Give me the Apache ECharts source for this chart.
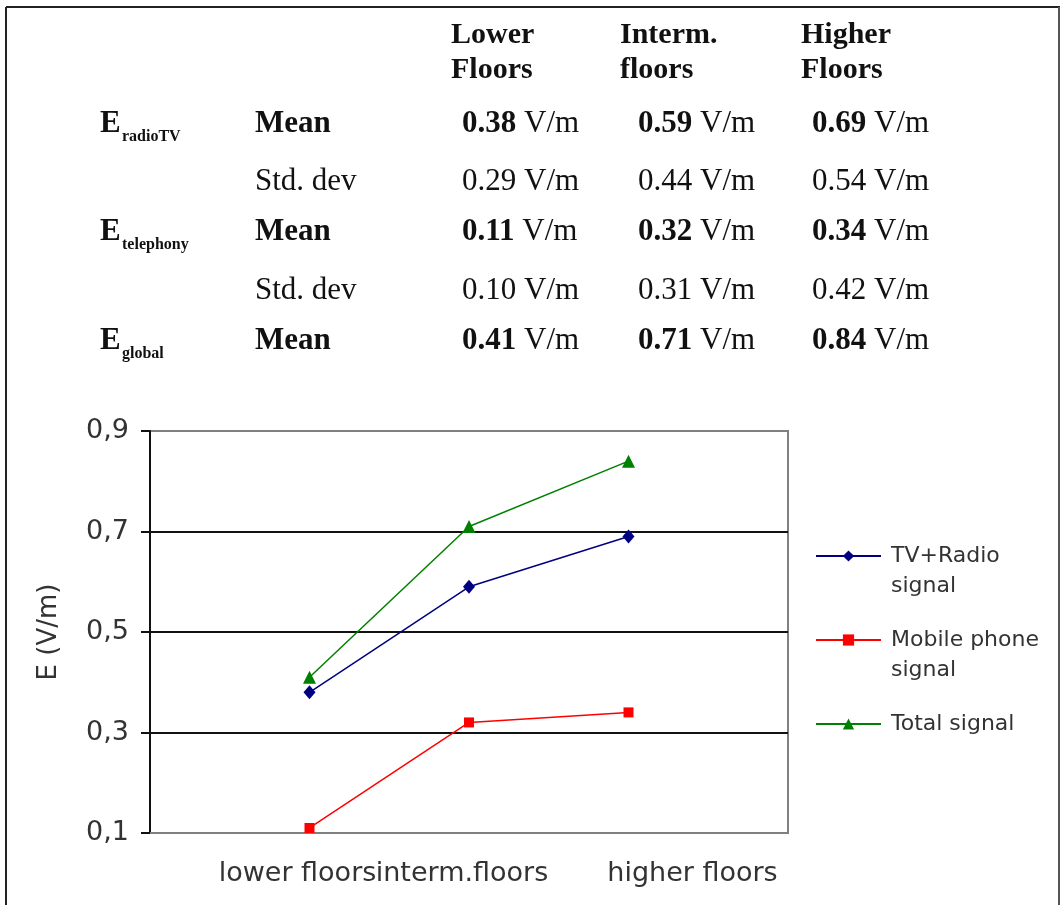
<!DOCTYPE html>
<html><head><meta charset="utf-8">
<script src="https://cdn.jsdelivr.net/npm/echarts@6/dist/echarts.min.js"></script>
<style>html,body{margin:0;padding:0;background:#fff}#c{width:1061px;height:905px}</style>
</head><body><div id="c"></div>
<script>
// ---- data ----
const floorCategories = ['lower floors', 'interm.floors', 'higher floors'];
const tableHeaders = [['Lower', 'Floors'], ['Interm.', 'floors'], ['Higher', 'Floors']];
const quantityNames = ['radioTV', 'telephony', 'global'];
const statNames = ['Mean', 'Std. dev'];
const radioTVMean = [0.38, 0.59, 0.69];
const radioTVStd = [0.29, 0.44, 0.54];
const telephonyMean = [0.11, 0.32, 0.34];
const telephonyStd = [0.10, 0.31, 0.42];
const globalMean = [0.41, 0.71, 0.84];
const seriesNames = ['TV+Radio signal', 'Mobile phone signal', 'Total signal'];
const yTickValues = [0.1, 0.3, 0.5, 0.7, 0.9];
const yAxisName = 'E (V/m)';
const unitText = 'V/m';

// ---- table (graphic text) ----
const serif = '"Liberation Serif", "Times New Roman", serif';
const sans = '"DejaVu Sans", sans-serif';
const tableRows = [
  { q: quantityNames[0], stat: statNames[0], vals: radioTVMean, bold: true },
  { q: null, stat: statNames[1], vals: radioTVStd, bold: false },
  { q: quantityNames[1], stat: statNames[0], vals: telephonyMean, bold: true },
  { q: null, stat: statNames[1], vals: telephonyStd, bold: false },
  { q: quantityNames[2], stat: statNames[0], vals: globalMean, bold: true }
];
const rowCenterY = [124, 182, 232, 291, 341];
const headerX = [451, 620, 801];
const headerY = [35, 70];
const valueX = [462, 638, 812];
const graphics = [];
function txt(x, y, text, size, weight, extra) {
  return {
    type: 'text', x: x, y: y, silent: true,
    style: Object.assign({ text: text, fontFamily: serif, fontSize: size, fontWeight: weight || 'normal', fill: '#111', align: 'left', verticalAlign: 'middle' }, extra || {})
  };
}
tableHeaders.forEach((lines, i) => {
  lines.forEach((line, j) => graphics.push(txt(headerX[i], headerY[j], line, 30, 'bold')));
});
tableRows.forEach((row, r) => {
  const cy = rowCenterY[r];
  if (row.q) {
    graphics.push(txt(100, cy, 'E', 31, 'bold'));
    graphics.push(txt(122, cy + 13, row.q, 16, 'bold'));
  }
  graphics.push(txt(255, cy, row.stat, 31, row.bold ? 'bold' : 'normal'));
  row.vals.forEach((v, c) => {
    const num = v.toFixed(2);
    const t = row.bold ? '{b|' + num + '} ' + unitText : num + ' ' + unitText;
    graphics.push(txt(valueX[c], cy, t, 31, 'normal', {
      rich: { b: { fontFamily: serif, fontSize: 31, fontWeight: 'bold', fill: '#111' } }
    }));
  });
});
// outer frame
graphics.push({ type: 'line', silent: true, shape: { x1: 6, y1: 7, x2: 1060, y2: 7 }, style: { stroke: '#222', lineWidth: 2 } });
graphics.push({ type: 'line', silent: true, shape: { x1: 6, y1: 7, x2: 6, y2: 905 }, style: { stroke: '#222', lineWidth: 2 } });
graphics.push({ type: 'line', silent: true, shape: { x1: 1059, y1: 7, x2: 1059, y2: 905 }, style: { stroke: '#555', lineWidth: 2 } });

// ---- chart ----
const pad = (arr) => [null].concat(arr, [null]);
const labelShift = { 'lower floors': 'l', 'interm.floors': 'm', 'higher floors': 'h' };
const chart = echarts.init(document.getElementById('c'), null, { renderer: 'canvas' });
chart.setOption({
  backgroundColor: '#fff',
  animation: false,
  graphic: graphics,
  grid: { left: 150, right: 273, top: 431, bottom: 72, show: true, borderColor: '#808080', borderWidth: 2, containLabel: false },
  legend: {
    orient: 'vertical', left: 815, top: 511, itemGap: -6, padding: 0,
    itemWidth: 65, itemHeight: 14,
    data: seriesNames,
    textStyle: { fontFamily: sans, fontSize: 22, color: '#333', lineHeight: 30, padding: [0, 0, 0, 5] },
    formatter: function (name) {
      if (name === seriesNames[0]) return '\nTV+Radio\nsignal';
      if (name === seriesNames[1]) return '\nMobile phone\nsignal';
      return '\n' + name + '\n';
    }
  },
  xAxis: {
    type: 'category', boundaryGap: false,
    data: [''].concat(floorCategories, ['']),
    axisLine: { show: true, lineStyle: { color: '#808080', width: 2 } },
    axisTick: { show: false },
    splitLine: { show: false },
    axisLabel: {
      interval: 0, margin: 27, fontFamily: sans, fontSize: 27, color: '#333',
      formatter: function (v) { return labelShift[v] ? '{' + labelShift[v] + '|' + v + '}' : v; },
      rich: {
        l: { fontFamily: sans, fontSize: 27, color: '#333', padding: [0, 24, 0, 0] },
        m: { fontFamily: sans, fontSize: 27, color: '#333', padding: [0, 14, 0, 0] },
        h: { fontFamily: sans, fontSize: 27, color: '#333', padding: [0, 0, 0, 128] }
      }
    }
  },
  yAxis: {
    type: 'value', min: yTickValues[0], max: yTickValues[yTickValues.length - 1], interval: 0.2,
    name: yAxisName, nameLocation: 'middle', nameGap: 88,
    nameTextStyle: { fontFamily: sans, fontSize: 26, color: '#333' },
    axisLine: { show: true, lineStyle: { color: '#111', width: 2 } },
    axisTick: { show: true, inside: false, length: 9, lineStyle: { color: '#111', width: 2 } },
    axisLabel: { margin: 21, fontFamily: sans, fontSize: 27, color: '#333', formatter: (v) => v.toFixed(1).replace('.', ',') },
    splitLine: { show: true, lineStyle: { color: ['#808080', '#111', '#111', '#111', '#808080'], width: 2 } }
  },
  series: [
    { name: seriesNames[0], type: 'line', data: pad(radioTVMean), symbol: 'diamond', symbolSize: [12, 14],
      itemStyle: { color: '#000080' }, lineStyle: { color: '#000080', width: 1.5 } },
    { name: seriesNames[1], type: 'line', data: pad(telephonyMean), symbol: 'rect', symbolSize: 10,
      itemStyle: { color: '#ff0000' }, lineStyle: { color: '#ff0000', width: 1.5 } },
    { name: seriesNames[2], type: 'line', data: pad(globalMean), symbol: 'triangle', symbolSize: 13,
      itemStyle: { color: '#008000' }, lineStyle: { color: '#008000', width: 1.5 } }
  ]
});
</script>
</body></html>
